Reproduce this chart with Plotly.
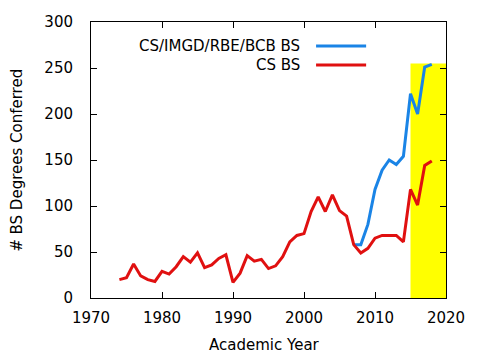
import plotly.graph_objects as go

years_cs = list(range(1974, 2019))
cs_bs = [20, 22, 37, 24, 20, 18, 29, 26, 34, 45, 39, 49, 33, 36, 43, 47, 17, 27, 46, 40,
         42, 32, 35, 45, 61, 68, 70, 94, 110, 94, 112, 95, 89, 58, 49, 54, 65, 68, 68, 68,
         61, 118, 101, 144, 149]

years_all = list(range(2007, 2019))
all_bs = [58, 58, 80, 118, 139, 150, 145, 154, 222, 200, 251, 254]

series_names = ["CS/IMGD/RBE/BCB BS", "CS BS"]
series_colors = ["#1a84e6", "#e01010"]

highlight_start, highlight_end, highlight_top = 2015, 2020, 255

x_ticks = [1970, 1980, 1990, 2000, 2010, 2020]
y_ticks = [0, 50, 100, 150, 200, 250, 300]

FONT = "DejaVu Sans"

fig = go.Figure()
fig.add_trace(go.Scatter(x=years_all, y=all_bs, mode="lines", name=series_names[0],
                         line=dict(color=series_colors[0], width=3)))
fig.add_trace(go.Scatter(x=years_cs, y=cs_bs, mode="lines", name=series_names[1],
                         line=dict(color=series_colors[1], width=3)))

fig.add_shape(type="rect", xref="x", yref="y", x0=highlight_start, x1=highlight_end,
              y0=0, y1=highlight_top, fillcolor="#ffff00", line=dict(width=0), layer="below")

# legend (text left of sample line, gnuplot style)
leg_rows = [0.913, 0.844]
for name, color, yy in zip(series_names, series_colors, leg_rows):
    fig.add_annotation(xref="paper", yref="paper", x=0.594, y=yy, text=name,
                       showarrow=False, xanchor="right", yanchor="middle",
                       font=dict(family=FONT, size=15, color="#000"))
    fig.add_shape(type="line", xref="paper", yref="paper", x0=0.634, x1=0.775,
                  y0=yy, y1=yy, line=dict(color=color, width=3))

fig.add_annotation(xref="paper", yref="paper", x=-0.209, y=0.5, text="# BS Degrees Conferred",
                   textangle=-90, showarrow=False, xanchor="center", yanchor="middle",
                   borderpad=0,
                   font=dict(family=FONT, size=15, color="#000"))
fig.add_annotation(xref="paper", yref="paper", x=0.49, y=-0.170, text="Academic Year",
                   showarrow=False, xanchor="center", yanchor="middle",
                   font=dict(family=FONT, size=15, color="#000"))

axis_common = dict(showline=True, linecolor="#000", linewidth=1, mirror="ticks",
                   ticks="inside", ticklen=6, tickcolor="#000", showgrid=False,
                   zeroline=False, automargin=False,
                   tickfont=dict(family=FONT, size=15, color="#000"))

fig.update_xaxes(range=[1970, 2020], tickvals=x_ticks, ticklabelstandoff=6, **axis_common)
fig.update_yaxes(range=[0, 300], tickvals=y_ticks, ticklabelstandoff=14, **axis_common)

# page body has an 8px default margin, so the figure is 8px smaller and offset
fig.update_layout(width=472, height=352, showlegend=False, template="none",
                  margin=dict(l=83, r=34, t=14, b=62, autoexpand=False),
                  plot_bgcolor="#fff", paper_bgcolor="#fff",
                  font=dict(family=FONT, size=15, color="#000"))

fig.write_html("out.html")
